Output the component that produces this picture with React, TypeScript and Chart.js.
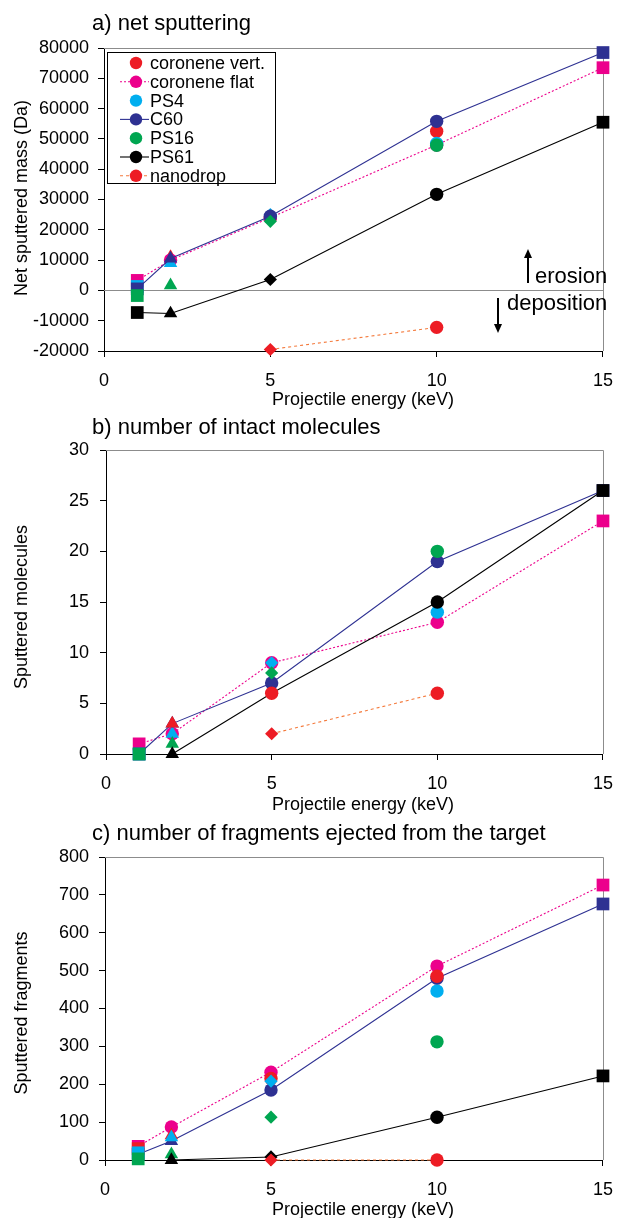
import React, { useEffect, useRef } from "react";
import { Chart, registerables } from "chart.js";

Chart.register(...registerables);

// ---------- data ----------
const energies = [1, 2, 5, 10, 15];
const xTicks = [0, 5, 10, 15];
const seriesNames = ["coronene vert.", "coronene flat", "PS4", "C60", "PS16", "PS61", "nanodrop"];

// a) net sputtered mass (Da)
const massCoroneneVert = [null, 11000, 24000, 52500, null];
const massCoroneneFlat = [3300, 10000, 24000, 48000, 73500];
const massPS4 = [1300, 9000, 25000, 48500, null];
const massC60 = [500, 10500, 24500, 55800, 78500];
const massPS16 = [-1700, 1700, 22800, 47900, null];
const massPS61 = [-7300, -7600, 3600, 31700, 55500];
const massNanodrop = [null, null, -19500, -12200, null];
const massTicks = [-20000, -10000, 0, 10000, 20000, 30000, 40000, 50000, 60000, 70000, 80000];

// b) number of intact molecules
const molCoroneneVert = [null, 3, 6, null, null];
const molCoroneneFlat = [1, 2, 9, 13, 23];
const molPS4 = [0, 2, 9, 14, null];
const molC60 = [0, 3, 7, 19, 26];
const molPS16 = [0, 1, 8, 20, null];
const molPS61 = [null, 0, 6, 15, 26];
const molNanodrop = [null, null, 2, 6, null];
const molTicks = [0, 5, 10, 15, 20, 25, 30];

// c) number of fragments
const fragCoroneneVert = [30, 65, 215, 485, null];
const fragCoroneneFlat = [36, 87, 232, 512, 726];
const fragPS4 = [19, 60, 208, 446, null];
const fragC60 = [15, 50, 185, 480, 676];
const fragPS16 = [3, 15, 113, 312, null];
const fragPS61 = [null, 0, 8, 113, 222];
const fragNanodrop = [null, null, 0, 0, null];
const fragTicks = [0, 100, 200, 300, 400, 500, 600, 700, 800];

// ---------- styles ----------
const FONT = "'Liberation Sans', Arial, Helvetica, sans-serif";
const markerColors = ["#ED1C24", "#EC008C", "#00AEEF", "#2E3192", "#00A651", "#000000", "#ED1C24"];
const lineColors = [null, "#EC008C", null, "#2E3192", null, "#000000", "#F47A3C"];
const lineDashes = [[], [2, 2], [], [], [], [], [3, 3]];
const shapes = [
  ["rect", "triangle", "circle", "circle", "rect"],
  ["rect", "circle", "circle", "circle", "rect"],
  ["rect", "triangle", "rectRot", "circle", "rect"],
  ["rect", "triangle", "circle", "circle", "rect"],
  ["rect", "triangle", "rectRot", "circle", "rect"],
  ["rect", "triangle", "rectRot", "circle", "rect"],
  ["rect", "triangle", "rectRot", "circle", "rect"],
];
const radiusFor = (s: string) => (s === "rect" ? 9 : s === "triangle" ? 7.8 : s === "rectRot" ? 6.6 : 6.7);

function buildDatasets(values: (number | null)[][], stack: number[]) {
  return seriesNames.map((name, i) => ({
    label: name,
    data: energies.map((x, j) => ({ x, y: values[i][j] })),
    showLine: lineColors[i] !== null,
    borderColor: lineColors[i] || markerColors[i],
    borderWidth: lineColors[i] ? 1.1 : 0,
    borderDash: lineDashes[i],
    backgroundColor: markerColors[i],
    pointBackgroundColor: markerColors[i],
    pointBorderColor: markerColors[i],
    pointBorderWidth: 0,
    pointStyle: (ctx: any) => shapes[i][ctx.dataIndex],
    pointRadius: (ctx: any) => radiusFor(shapes[i][ctx.dataIndex]),
    order: 20 - stack.indexOf(i),
    clip: false as any,
    tension: 0,
  }));
}

type PanelCfg = {
  top: number;
  height: number;
  area: { left: number; right: number; top: number; bottom: number };
  values: (number | null)[][];
  stack: number[];
  yTicks: number[];
  title: string;
  titleBase: number;
  yTitle: string;
  yTitleCenter: number;
  xTitleBase: number;
  zeroLine?: boolean;
  legend?: boolean;
  notes?: boolean;
};

const panels: PanelCfg[] = [
  {
    top: 0,
    height: 412,
    area: { left: 104, right: 615, top: 48, bottom: 351 },
    values: [massCoroneneVert, massCoroneneFlat, massPS4, massC60, massPS16, massPS61, massNanodrop],
    stack: [0, 1, 2, 3, 4, 5, 6],
    yTicks: massTicks,
    title: "a) net sputtering",
    titleBase: 30,
    yTitle: "Net sputtered mass (Da)",
    yTitleCenter: 198,
    xTitleBase: 405,
    zeroLine: true,
    legend: true,
    notes: true,
  },
  {
    top: 412,
    height: 404,
    area: { left: 106, right: 615, top: 450, bottom: 754 },
    values: [molCoroneneVert, molCoroneneFlat, molPS4, molC60, molPS16, molPS61, molNanodrop],
    stack: [1, 2, 3, 4, 5, 6, 0],
    yTicks: molTicks,
    title: "b) number of intact molecules",
    titleBase: 434,
    yTitle: "Sputtered molecules",
    yTitleCenter: 607,
    xTitleBase: 810,
  },
  {
    top: 816,
    height: 402,
    area: { left: 105, right: 611, top: 857, bottom: 1160 },
    values: [fragCoroneneVert, fragCoroneneFlat, fragPS4, fragC60, fragPS16, fragPS61, fragNanodrop],
    stack: [1, 3, 0, 2, 4, 5, 6],
    yTicks: fragTicks,
    title: "c) number of fragments ejected from the target",
    titleBase: 840,
    yTitle: "Sputtered fragments",
    yTitleCenter: 1013,
    xTitleBase: 1215,
  },
];

function arrow(ctx: CanvasRenderingContext2D, x: number, y1: number, y2: number) {
  const dir = y2 > y1 ? 1 : -1;
  ctx.save();
  ctx.strokeStyle = "#000";
  ctx.fillStyle = "#000";
  ctx.lineWidth = 2;
  ctx.beginPath();
  ctx.moveTo(x, y1);
  ctx.lineTo(x, y2 - dir * 7);
  ctx.stroke();
  ctx.beginPath();
  ctx.moveTo(x, y2);
  ctx.lineTo(x - 4, y2 - dir * 9);
  ctx.lineTo(x + 4, y2 - dir * 9);
  ctx.closePath();
  ctx.fill();
  ctx.restore();
}

function makeDecor(p: PanelCfg) {
  const off = p.top;
  return {
    id: "decor",
    beforeDatasetsDraw(chart: any) {
      const ctx: CanvasRenderingContext2D = chart.ctx;
      const a = chart.chartArea;
      ctx.save();
      ctx.strokeStyle = "#8C8C8C";
      ctx.lineWidth = 1;
      ctx.beginPath();
      ctx.moveTo(a.left, Math.round(a.top) + 0.5);
      ctx.lineTo(a.right + 0.5, Math.round(a.top) + 0.5);
      ctx.lineTo(Math.round(a.right) + 0.5, a.bottom);
      ctx.stroke();
      if (p.zeroLine) {
        const y0 = Math.round(chart.scales.y.getPixelForValue(0)) + 0.5;
        ctx.beginPath();
        ctx.moveTo(a.left, y0);
        ctx.lineTo(a.right, y0);
        ctx.stroke();
      }
      ctx.restore();
    },
    afterDraw(chart: any) {
      const ctx: CanvasRenderingContext2D = chart.ctx;
      ctx.save();
      ctx.fillStyle = "#000";
      ctx.font = `22px ${FONT}`;
      ctx.textAlign = "left";
      ctx.textBaseline = "alphabetic";
      ctx.fillText(p.title, 92, p.titleBase - off);
      ctx.font = `18px ${FONT}`;
      ctx.textAlign = "center";
      ctx.fillText("Projectile energy (keV)", 363, p.xTitleBase - off);
      ctx.save();
      ctx.translate(27, p.yTitleCenter - off);
      ctx.rotate(-Math.PI / 2);
      ctx.textAlign = "center";
      ctx.fillText(p.yTitle, 0, 0);
      ctx.restore();

      if (p.legend) {
        ctx.fillStyle = "#fff";
        ctx.fillRect(107.5, 52.5, 168, 131);
        ctx.strokeStyle = "#000";
        ctx.lineWidth = 1;
        ctx.strokeRect(107.5, 52.5, 168, 131);
        ctx.font = `18px ${FONT}`;
        ctx.textAlign = "left";
        ctx.textBaseline = "middle";
        seriesNames.forEach((name, i) => {
          const y = 63 + i * 18.8;
          if (lineColors[i]) {
            ctx.save();
            ctx.strokeStyle = lineColors[i] as string;
            ctx.lineWidth = 1.1;
            ctx.setLineDash(lineDashes[i]);
            ctx.beginPath();
            ctx.moveTo(120, y);
            ctx.lineTo(149, y);
            ctx.stroke();
            ctx.restore();
          }
          ctx.fillStyle = markerColors[i];
          ctx.beginPath();
          ctx.arc(136, y, 6.2, 0, Math.PI * 2);
          ctx.fill();
          ctx.fillStyle = "#000";
          ctx.fillText(name, 150, y + 1);
        });
      }
      if (p.notes) {
        ctx.fillStyle = "#000";
        ctx.font = `22px ${FONT}`;
        ctx.textAlign = "left";
        ctx.textBaseline = "alphabetic";
        ctx.fillText("erosion", 535, 283);
        ctx.fillText("deposition", 507, 310);
        arrow(ctx, 528, 283, 249);
        arrow(ctx, 498, 298, 333);
      }
      ctx.restore();
    },
  };
}

function Panel({ p }: { p: PanelCfg }) {
  const ref = useRef<HTMLCanvasElement | null>(null);
  useEffect(() => {
    if (!ref.current) return;
    const a = p.area;
    const localTop = a.top - p.top;
    const localBottom = a.bottom - p.top;
    const yMin = p.yTicks[0];
    const yMax = p.yTicks[p.yTicks.length - 1];
    const yStep = p.yTicks[1] - p.yTicks[0];
    const chart = new Chart(ref.current, {
      type: "scatter",
      data: { datasets: buildDatasets(p.values, p.stack) as any },
      options: {
        responsive: false,
        animation: false,
        devicePixelRatio: 1,
        layout: { padding: { top: localTop, right: 626 - a.right, left: 0, bottom: 0 } },
        plugins: { legend: { display: false }, tooltip: { enabled: false }, title: { display: false } },
        scales: {
          x: {
            type: "linear",
            min: xTicks[0],
            max: xTicks[xTicks.length - 1],
            afterFit: (s: any) => {
              s.height = p.height - localBottom;
            },
            afterBuildTicks: (s: any) => {
              s.ticks = xTicks.map((v) => ({ value: v }));
            },
            ticks: {
              color: "#000",
              font: { family: FONT, size: 18 },
              padding: 13,
              maxRotation: 0,
              callback: (v: any) => String(v),
            },
            grid: { drawOnChartArea: false, drawTicks: true, tickLength: 6, color: "#000", lineWidth: 1 },
            border: { display: true, color: "#000", width: 1 },
          },
          y: {
            type: "linear",
            min: yMin,
            max: yMax,
            afterFit: (s: any) => {
              s.width = a.left;
            },
            ticks: {
              stepSize: yStep,
              color: "#000",
              font: { family: FONT, size: 18 },
              padding: a.left - 6 - 89,
              callback: (v: any) => String(v),
            },
            grid: { drawOnChartArea: false, drawTicks: true, tickLength: 6, color: "#000", lineWidth: 1 },
            border: { display: true, color: "#000", width: 1 },
          },
        },
      },
      plugins: [makeDecor(p)],
    });
    return () => chart.destroy();
  }, [p]);
  return (
    <canvas
      ref={ref}
      width={626}
      height={p.height}
      style={{ position: "absolute", left: 0, top: p.top, width: 626, height: p.height, display: "block" }}
    />
  );
}

export default function App() {
  return (
    <div style={{ position: "absolute", left: 0, top: 0, width: 626, height: 1218, background: "#fff" }}>
      {panels.map((p, i) => (
        <Panel key={i} p={p} />
      ))}
    </div>
  );
}
